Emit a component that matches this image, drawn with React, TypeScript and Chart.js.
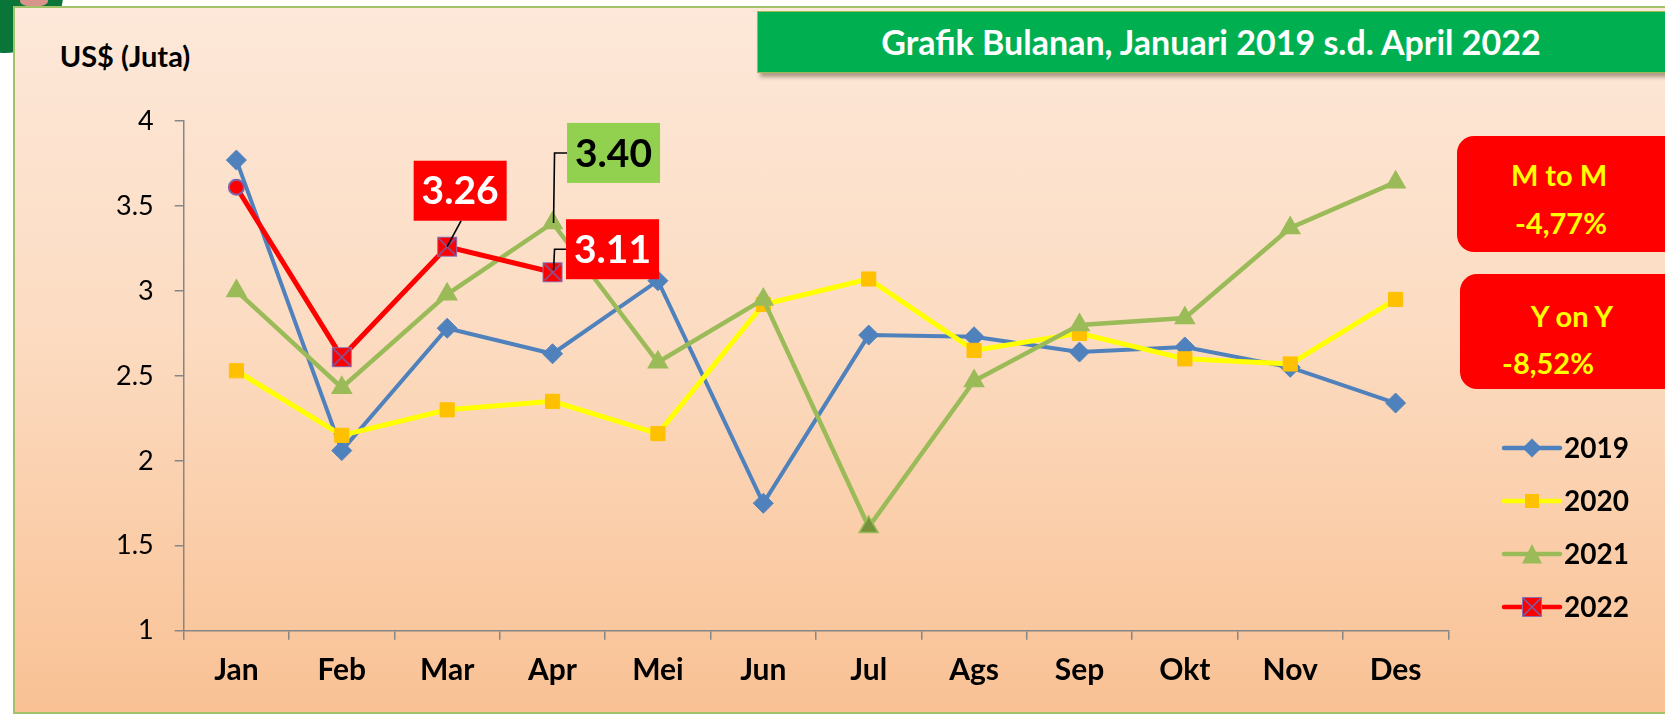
import React, { useEffect, useRef } from 'react';
import { Chart, registerables } from 'chart.js';

Chart.register(...registerables);

// ---------- DATA ----------
const months = ['Jan', 'Feb', 'Mar', 'Apr', 'Mei', 'Jun', 'Jul', 'Ags', 'Sep', 'Okt', 'Nov', 'Des'];
const values2019 = [3.77, 2.06, 2.78, 2.63, 3.06, 1.75, 2.74, 2.73, 2.64, 2.67, 2.55, 2.34];
const values2020 = [2.53, 2.15, 2.30, 2.35, 2.16, 2.92, 3.07, 2.65, 2.75, 2.60, 2.57, 2.95];
const values2021 = [3.00, 2.43, 2.98, 3.40, 2.58, 2.95, 1.61, 2.47, 2.80, 2.84, 3.37, 3.64];
const values2022 = [3.61, 2.61, 3.26, 3.11];
const seriesNames = ['2019', '2020', '2021', '2022'];
const yTickValues = [1, 1.5, 2, 2.5, 3, 3.5, 4];
const titleText = 'Grafik Bulanan, Januari 2019 s.d. April 2022';
const unitText = 'US$ (Juta)';
const mtmLabel = 'M to M';
const mtmValue = '-4,77%';
const yoyLabel = 'Y on Y';
const yoyValue = '-8,52%';

const FONT = 'Lato, "Open Sans", sans-serif';

function makeXSquare(): HTMLCanvasElement {
  const c = document.createElement('canvas');
  c.width = 22;
  c.height = 22;
  const g = c.getContext('2d')!;
  g.fillStyle = '#FF0000';
  g.fillRect(1, 1, 20, 20);
  g.strokeStyle = '#8E6FB0';
  g.lineWidth = 1;
  g.strokeRect(1.5, 1.5, 19, 19);
  g.strokeStyle = '#7560A8';
  g.lineWidth = 1.6;
  g.beginPath();
  g.moveTo(2.5, 2.5);
  g.lineTo(19.5, 19.5);
  g.moveTo(19.5, 2.5);
  g.lineTo(2.5, 19.5);
  g.stroke();
  return c;
}

export default function App() {
  const canvasRef = useRef<HTMLCanvasElement | null>(null);

  useEffect(() => {
    let chart: Chart | null = null;
    let cancelled = false;
    const xSquare = makeXSquare();

    const calloutPlugin = {
      id: 'callouts',
      afterDatasetsDraw(ch: any) {
        const ctx = ch.ctx as CanvasRenderingContext2D;
        const xs = ch.scales.x;
        const ys = ch.scales.y;
        const specs = [
          { ds: 3, i: 2, bg: '#FF0000', fg: '#FFFFFF', dx: 13, dy: -56, elbow: false, end: 0 },
          { ds: 2, i: 3, bg: '#92D050', fg: '#000000', dx: 61, dy: -70, elbow: true, end: 0 },
          { ds: 3, i: 3, bg: '#FF0000', fg: '#FFFFFF', dx: 60, dy: -23, elbow: true, end: -2 },
        ];
        const W = 93;
        const H = 60;
        ctx.save();
        for (const s of specs) {
          const v = ch.data.datasets[s.ds].data[s.i] as number;
          const px = xs.getPixelForValue(s.i);
          const py = ys.getPixelForValue(v);
          const cx = px + s.dx;
          const cy = py + s.dy;
          const left = cx - W / 2;
          const top = cy - H / 2;
          ctx.strokeStyle = '#000';
          ctx.lineWidth = 1.6;
          ctx.beginPath();
          if (s.elbow) {
            ctx.moveTo(left, cy);
            ctx.lineTo(px + 2, cy);
            ctx.lineTo(px + 1, py + s.end);
          } else {
            ctx.moveTo(cx + 1, top + H);
            ctx.lineTo(px, py);
          }
          ctx.stroke();
          ctx.fillStyle = s.bg;
          ctx.fillRect(left, top, W, H);
          ctx.fillStyle = s.fg;
          ctx.font = `bold 39px ${FONT}`;
          ctx.textAlign = 'center';
          ctx.textBaseline = 'middle';
          ctx.fillText(v.toFixed(2), cx, cy + 1);
        }
        ctx.restore();
      },
    };

    const legendPlugin = {
      id: 'customLegend',
      afterDraw(ch: any) {
        const ctx = ch.ctx as CanvasRenderingContext2D;
        const rowsY = [448, 501, 554, 607];
        const x0 = 1504;
        const x1 = 1560;
        const mx = 1532;
        ctx.save();
        seriesNames.forEach((name, k) => {
          const ds = ch.data.datasets[k];
          const y = rowsY[k];
          ctx.strokeStyle = ds.borderColor;
          ctx.lineWidth = 4.5;
          ctx.lineCap = 'round';
          ctx.beginPath();
          ctx.moveTo(x0, y);
          ctx.lineTo(x1, y);
          ctx.stroke();
          const fill = Array.isArray(ds.pointBackgroundColor) ? ds.pointBackgroundColor[0] : ds.pointBackgroundColor;
          ctx.fillStyle = fill;
          if (k === 0) {
            ctx.beginPath();
            ctx.moveTo(mx, y - 9.5);
            ctx.lineTo(mx + 9.5, y);
            ctx.lineTo(mx, y + 9.5);
            ctx.lineTo(mx - 9.5, y);
            ctx.closePath();
            ctx.fill();
          } else if (k === 1) {
            ctx.fillRect(mx - 7, y - 7, 14, 14);
          } else if (k === 2) {
            ctx.beginPath();
            ctx.moveTo(mx, y - 10);
            ctx.lineTo(mx + 10, y + 9.5);
            ctx.lineTo(mx - 10, y + 9.5);
            ctx.closePath();
            ctx.fill();
          } else {
            ctx.drawImage(xSquare, mx - 11, y - 11);
          }
          ctx.fillStyle = '#000';
          ctx.font = `bold 28px ${FONT}`;
          ctx.textAlign = 'left';
          ctx.textBaseline = 'middle';
          ctx.fillText(name, 1564, y + 1);
        });
        ctx.restore();
      },
    };

    const build = () => {
      if (cancelled || !canvasRef.current) return;
      chart = new Chart(canvasRef.current, {
        type: 'line',
        data: {
          labels: months,
          datasets: [
            {
              label: seriesNames[0],
              data: values2019,
              borderColor: '#4F81BD',
              backgroundColor: '#4F81BD',
              borderWidth: 4,
              pointStyle: 'rectRot',
              pointRadius: 10,
              pointBackgroundColor: '#4F81BD',
              pointBorderColor: '#4F81BD',
              pointBorderWidth: 1,
              tension: 0,
              order: 4,
            },
            {
              label: seriesNames[1],
              data: values2020,
              borderColor: '#FFFF00',
              backgroundColor: '#FFC000',
              borderWidth: 5,
              pointStyle: 'rect',
              pointRadius: 10,
              pointBackgroundColor: '#FFC000',
              pointBorderColor: '#FFC000',
              pointBorderWidth: 1,
              tension: 0,
              order: 3,
            },
            {
              label: seriesNames[2],
              data: values2021,
              borderColor: '#9BBB59',
              backgroundColor: '#9BBB59',
              borderWidth: 4.5,
              pointStyle: 'triangle',
              pointRadius: 11,
              pointBackgroundColor: values2021.map((_, i) => (i === 6 ? '#76923C' : '#9BBB59')),
              pointBorderColor: '#9BBB59',
              pointBorderWidth: 1.5,
              tension: 0,
              order: 2,
            },
            {
              label: seriesNames[3],
              data: values2022,
              borderColor: '#FF0000',
              backgroundColor: '#FF0000',
              borderWidth: 5,
              pointStyle: values2022.map((_, i) => (i === 0 ? 'circle' : xSquare)) as any,
              pointRadius: values2022.map((_, i) => (i === 0 ? 7.5 : 10)),
              pointBackgroundColor: '#FF0000',
              pointBorderColor: '#7F63A8',
              pointBorderWidth: 2,
              tension: 0,
              order: 1,
            },
          ],
        },
        options: {
          animation: false,
          responsive: false,
          maintainAspectRatio: false,
          events: [],
          layout: { padding: { left: 0, top: 121, right: 216.7, bottom: 0 } },
          plugins: {
            legend: { display: false },
            tooltip: { enabled: false },
            title: { display: false },
          },
          scales: {
            x: {
              offset: true,
              grid: {
                display: true,
                offset: true,
                drawOnChartArea: false,
                drawTicks: true,
                tickLength: 9,
                color: '#868686',
                lineWidth: 1.5,
              },
              border: { display: true, color: '#868686', width: 1.5 },
              ticks: {
                color: '#000',
                font: { family: FONT, size: 30, weight: 'bold' },
                padding: 13,
                maxRotation: 0,
                autoSkip: false,
              },
              afterFit: (s: any) => {
                s.height = 83.3;
              },
            },
            y: {
              min: 1,
              max: 4,
              afterBuildTicks: (s: any) => {
                s.ticks = yTickValues.map((v) => ({ value: v }));
              },
              grid: {
                display: true,
                drawOnChartArea: false,
                drawTicks: true,
                tickLength: 9,
                color: '#868686',
                lineWidth: 1.5,
              },
              border: { display: true, color: '#868686', width: 1.5 },
              ticks: {
                color: '#000',
                font: { family: FONT, size: 27, weight: 'normal' },
                padding: 21,
                callback: (v: any) => String(v),
              },
              afterFit: (s: any) => {
                s.width = 183.7;
              },
            },
          },
        },
        plugins: [calloutPlugin, legendPlugin],
      } as any);
    };

    const fontsReady = (document as any).fonts
      ? Promise.all([
          (document as any).fonts.load(`bold 29px Lato`),
          (document as any).fonts.load(`27px Lato`),
        ]).catch(() => undefined)
      : Promise.resolve();
    fontsReady.then(build);

    return () => {
      cancelled = true;
      if (chart) chart.destroy();
    };
  }, []);

  const abs = (x: number, y: number): React.CSSProperties => ({
    position: 'absolute',
    left: x,
    top: y,
    transform: 'translate(-50%, -50%)',
    whiteSpace: 'nowrap',
    lineHeight: 1,
  });

  return (
    <div
      style={{
        position: 'fixed',
        left: 0,
        top: 0,
        width: 1665,
        height: 714,
        overflow: 'hidden',
        background: '#FFFFFF',
        fontFamily: FONT,
      }}
    >
      {/* decorative corner */}
      <div
        style={{
          position: 'absolute',
          left: 5 - 58,
          top: -5 - 58,
          width: 116,
          height: 116,
          borderRadius: '50%',
          background: '#0A7539',
        }}
      />
      <div
        style={{
          position: 'absolute',
          left: 20,
          top: -5,
          width: 28,
          height: 12,
          borderRadius: '50%',
          background: '#D8938A',
        }}
      />
      {/* panel */}
      <div
        style={{
          position: 'absolute',
          left: 13,
          top: 6,
          width: 1680,
          height: 704,
          border: '2px solid #A2C267',
          background: 'linear-gradient(180deg, #FDE8D9 0%, #FCDCC2 45%, #F9C194 100%)',
        }}
      />
      {/* title box */}
      <div
        style={{
          position: 'absolute',
          left: 757,
          top: 11,
          width: 920,
          height: 60,
          background: '#00B050',
          border: '1px solid #9BBB59',
          boxShadow: '3px 4px 4px rgba(80,60,40,0.45)',
        }}
      />
      <div style={{ ...abs(1211, 42), color: '#FFFFFF', fontWeight: 'bold', fontSize: 34 }}>{titleText}</div>
      {/* unit label */}
      <div style={{ ...abs(125, 55), color: '#000', fontWeight: 'bold', fontSize: 29 }}>{unitText}</div>
      {/* M to M box */}
      <div
        style={{
          position: 'absolute',
          left: 1457,
          top: 136,
          width: 240,
          height: 116,
          background: '#FF0000',
          borderRadius: 17,
        }}
      />
      <div style={{ ...abs(1559, 174), color: '#FFFF00', fontWeight: 'bold', fontSize: 29 }}>{mtmLabel}</div>
      <div style={{ ...abs(1561, 222), color: '#FFFF00', fontWeight: 'bold', fontSize: 29 }}>{mtmValue}</div>
      {/* Y on Y box */}
      <div
        style={{
          position: 'absolute',
          left: 1460,
          top: 274,
          width: 240,
          height: 115,
          background: '#FF0000',
          borderRadius: 17,
        }}
      />
      <div style={{ ...abs(1572, 315), color: '#FFFF00', fontWeight: 'bold', fontSize: 29 }}>{yoyLabel}</div>
      <div style={{ ...abs(1548, 362), color: '#FFFF00', fontWeight: 'bold', fontSize: 29 }}>{yoyValue}</div>
      {/* chart canvas */}
      <canvas
        ref={canvasRef}
        width={1665}
        height={714}
        style={{ position: 'absolute', left: 0, top: 0, width: 1665, height: 714 }}
      />
    </div>
  );
}
